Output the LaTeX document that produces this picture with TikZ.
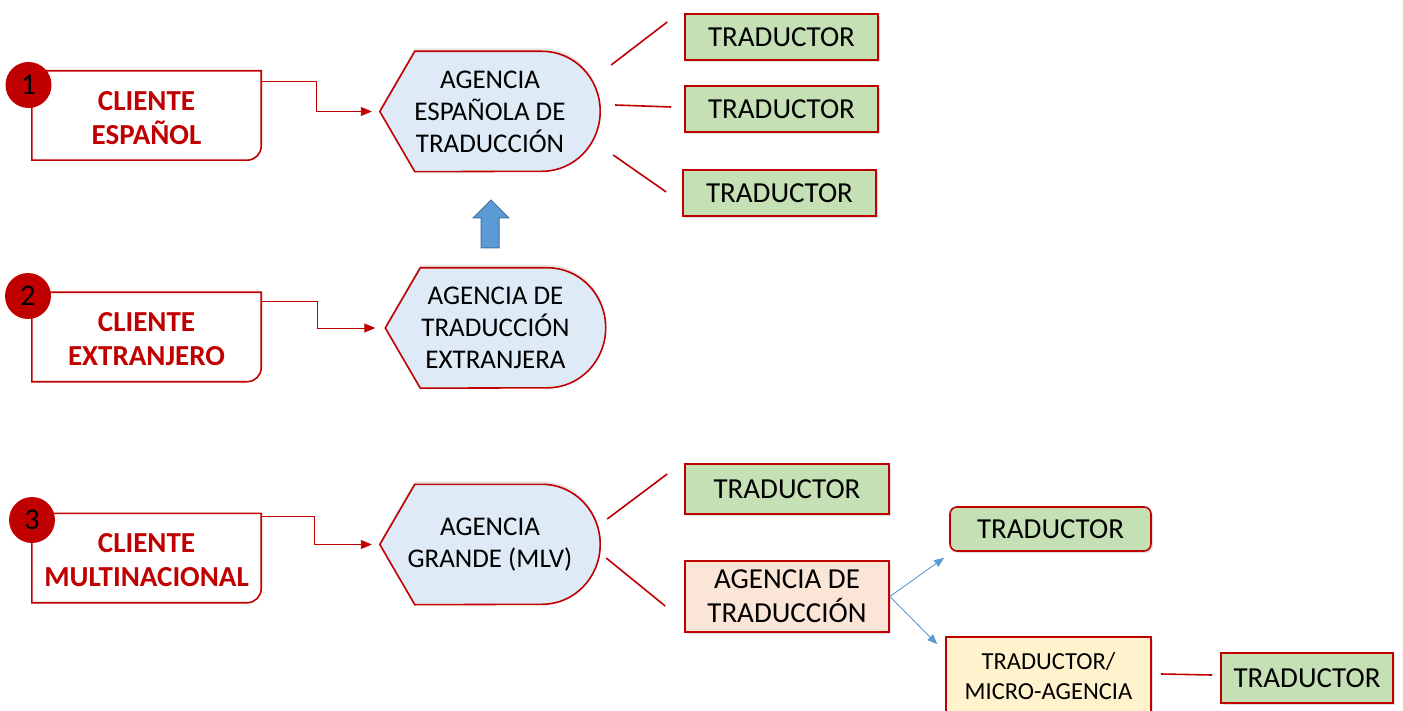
\documentclass[tikz,border=0pt]{standalone}
\usepackage{fontspec}
\setmainfont{Carlito}
\usetikzlibrary{arrows.meta,backgrounds,shadows}
\definecolor{rojo}{HTML}{C00000}
\definecolor{azulclaro}{HTML}{DEEBF7}
\definecolor{verde}{HTML}{C5E0B4}
\definecolor{salmon}{HTML}{FBE5D6}
\definecolor{crema}{HTML}{FFF2CC}
\definecolor{azul}{HTML}{5B9BD5}
\definecolor{azuloscuro}{HTML}{41719C}

\begin{document}
\begin{tikzpicture}[x=1pt,y=1pt]
        \tikzstyle{cliente}=[minimum width=229pt, minimum height=89pt, inner sep=0pt, align=center, text=rojo, font=\fontsize{29}{34}\selectfont\bfseries]
        \tikzstyle{clshape}=[draw=rojo, line width=1.6pt, fill=white]
        \tikzstyle{badge}=[circle, fill=rojo, minimum size=46pt, inner sep=0pt, font=\fontsize{30}{32}\selectfont]
        \tikzstyle{agencia}=[minimum width=220pt, minimum height=120pt, inner sep=0pt, align=center, font=\fontsize{27}{32}\selectfont]
        \tikzstyle{agshape}=[draw=rojo, line width=1.6pt, fill=azulclaro, drop shadow={opacity=0.2, shadow xshift=0pt, shadow yshift=3pt}]
        \tikzstyle{traductor}=[draw=rojo, line width=1.6pt, fill=verde, inner sep=0pt, font=\fontsize{29}{32}\selectfont, drop shadow={opacity=0.25, shadow xshift=2pt, shadow yshift=-2pt}]
        \tikzstyle{caja}=[draw=rojo, line width=1.6pt, inner sep=0pt, align=center, drop shadow={opacity=0.25, shadow xshift=2pt, shadow yshift=-2pt}]
        \tikzstyle{flecha}=[rojo, line width=0.9pt, -{Triangle[length=11pt,width=9pt]}]
        \tikzstyle{enlace}=[rojo, line width=1.6pt]
        \tikzstyle{flechaazul}=[azul, line width=0.9pt, -{Triangle[length=10pt,width=8pt]}]
        \useasboundingbox (0,0) rectangle (1403,-711);

        \node[cliente] (cl1) at (146.5,-118) {CLIENTE\\ESPAÑOL};
        \node[cliente] (cl2) at (146.5,-339.5) {CLIENTE\\EXTRANJERO};
        \node[cliente] (cl3) at (146.5,-560.5) {CLIENTE\\MULTINACIONAL};
        \node[badge] (b1) at (28.5,-85) {1};
        \node[badge] (b2) at (28,-296) {2};
        \node[badge] (b3) at (32,-520) {3};

        \node[agencia] (ag1) at (490,-111.5) {AGENCIA\\ESPAÑOLA DE\\TRADUCCIÓN};
        \node[agencia] (ag2) at (495.5,-328) {AGENCIA DE\\TRADUCCIÓN\\EXTRANJERA};
        \node[agencia] (ag3) at (490,-544.5) {AGENCIA\\GRANDE (MLV)};

        \node[traductor, minimum width=193pt, minimum height=46pt] (tr1) at (781.5,-37) {TRADUCTOR};
        \node[traductor, minimum width=193pt, minimum height=46pt] (tr2) at (781.5,-109) {TRADUCTOR};
        \node[traductor, minimum width=193pt, minimum height=46pt] (tr3) at (779.5,-193) {TRADUCTOR};
        \node[traductor, minimum width=204pt, minimum height=50pt] (tr4) at (787,-489) {TRADUCTOR};
        \node[caja, fill=salmon, minimum width=204pt, minimum height=71pt, font=\fontsize{29}{34}\selectfont] (agd) at (787,-596.5) {AGENCIA DE\\TRADUCCIÓN};
        \node[traductor, rounded corners=7pt, minimum width=201pt, minimum height=44pt] (tr5) at (1050.5,-529) {TRADUCTOR};
        \node[caja, fill=crema, minimum width=205pt, minimum height=78pt, font=\fontsize{24.5}{30}\selectfont] (micro) at (1048.5,-676) {TRADUCTOR/\\MICRO-AGENCIA};
        \node[traductor, minimum width=172pt, minimum height=50pt] (tr6) at (1307,-678) {TRADUCTOR};

        \begin{scope}[on background layer]
        \foreach \c in {cl1,cl2,cl3}
            \draw[clshape] ([yshift=2.5pt]\c.south west) -- ([yshift=2.5pt]\c.north west) -- ([yshift=2.5pt]\c.north east) -- ([yshift=16.5pt]\c.south east) arc[start angle=0, end angle=-90, radius=14pt] -- cycle;
        \foreach \a in {ag1,ag2,ag3}
            \draw[agshape] (\a.west) -- ([xshift=35pt]\a.north west) -- ([xshift=-58pt]\a.north east) arc[start angle=90, end angle=-90, x radius=58pt, y radius=60pt] -- ([xshift=35pt]\a.south west) -- cycle;
        \end{scope}

        \draw[flecha, shorten >=8pt] ([yshift=-8.5pt]cl1.north east) -- ++(55,0) |- (ag1.west);
        \draw[flecha, shorten >=10pt] ([yshift=-7pt]cl2.north east) -- ++(56,0) |- (ag2.west);
        \draw[flecha, shorten >=8pt] ([yshift=-1pt]cl3.north east) -- ++(53,0) |- (ag3.west);

        \draw[fill=azul, draw=azuloscuro, line width=1pt] (491,-200) -- (509,-218) -- (499,-218) -- (499,-248) -- (481,-248) -- (481,-218) -- (473,-218) -- cycle;

        \draw[enlace] ([shift={(11,46.5)}]ag1.east) -- ([shift={(-17,15)}]tr1.west);
        \draw[enlace] ([shift={(15,6.5)}]ag1.east) -- ([shift={(-13,2)}]tr2.west);
        \draw[enlace] ([shift={(13,-43.5)}]ag1.east) -- ([shift={(-16,1)}]tr3.west);
        \draw[enlace] ([shift={(7,25.5)}]ag3.east) -- ([shift={(-17,15)}]tr4.west);
        \draw[enlace] ([shift={(6,-13.5)}]ag3.east) -- ([shift={(-19,-9.5)}]agd.west);
        \draw[enlace] ([shift={(9,2)}]micro.east) -- ([shift={(-8,3)}]tr6.west);

        \draw[flechaazul] (agd.east) -- ([shift={(-5,-6)}]tr5.south west);
        \draw[flechaazul] (agd.east) -- ([shift={(-8,-8)}]micro.north west);
\end{tikzpicture}
\end{document}
